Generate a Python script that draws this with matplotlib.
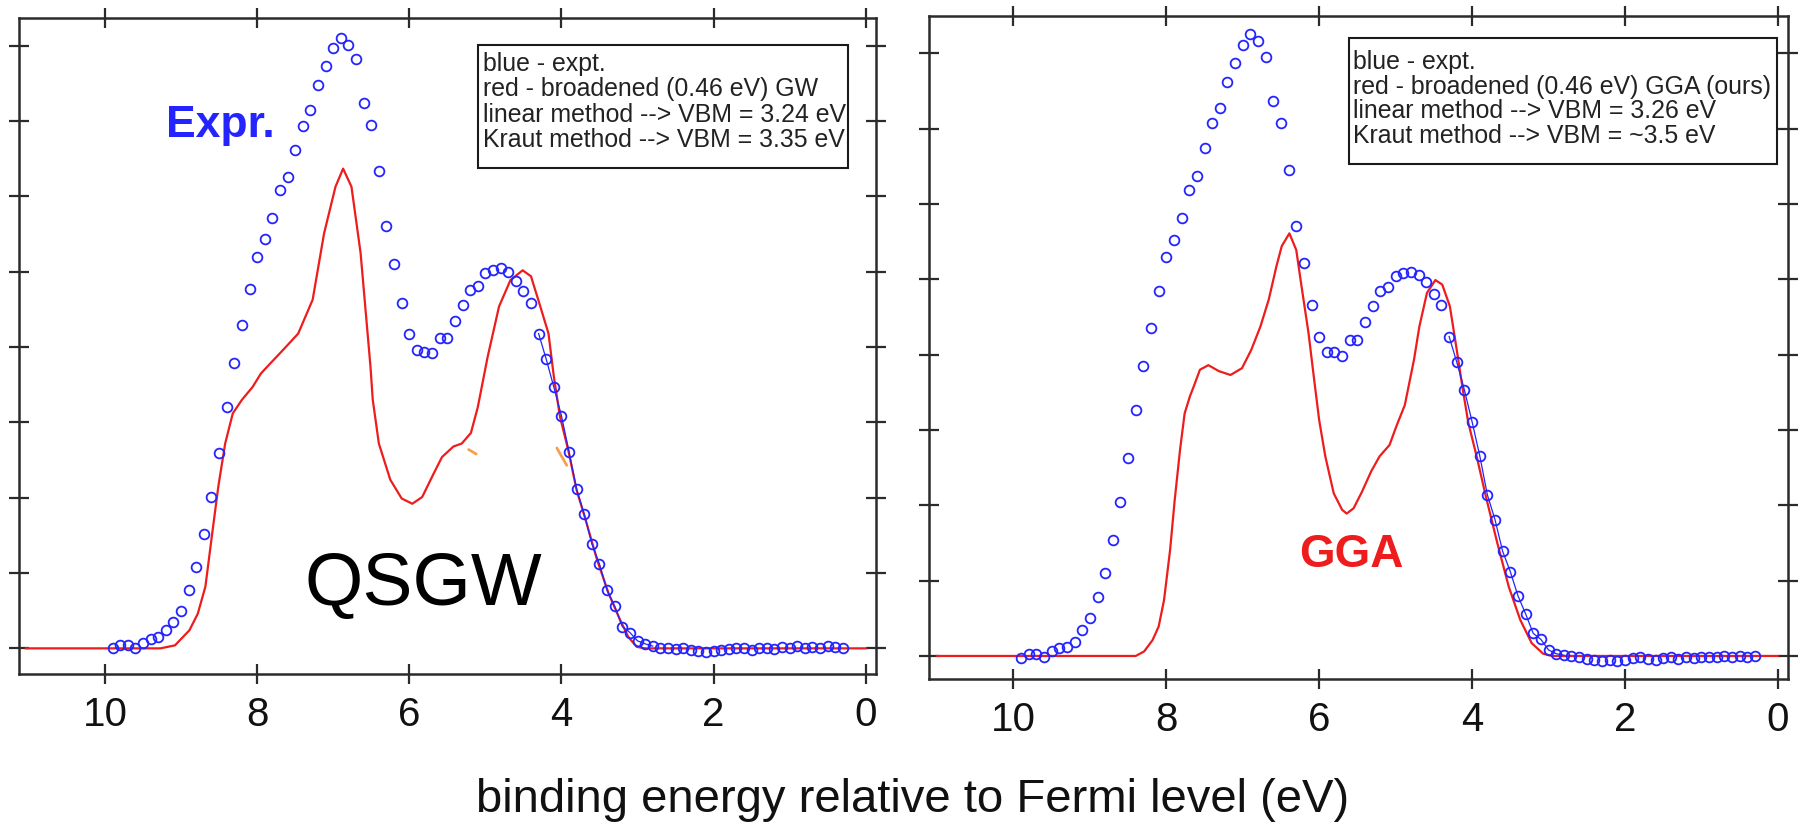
import numpy as np
import matplotlib.pyplot as plt
from matplotlib.patches import Rectangle

plt.rcParams['font.family'] = ['Liberation Sans', 'DejaVu Sans']

# experimental spectrum, sampled every 0.1 eV from 9.9 eV down to 0.3 eV
energy_expt = np.round(np.arange(9.9, 0.25, -0.1), 1)

expt_gw = [0.00, 0.04, 0.05, 0.01, 0.07, 0.12, 0.15, 0.24, 0.35, 0.50,
           0.77, 1.08, 1.52, 2.01, 2.59, 3.21, 3.79, 4.29, 4.77, 5.20,
           5.43, 5.71, 6.09, 6.26, 6.62, 6.94, 7.15, 7.48, 7.73, 7.97,
           8.10, 8.01, 7.82, 7.24, 6.95, 6.34, 5.61, 5.11, 4.59, 4.17,
           3.96, 3.94, 3.92, 4.12, 4.12, 4.35, 4.56, 4.76, 4.81, 4.98,
           5.03, 5.05, 5.00, 4.88, 4.74, 4.59, 4.18, 3.84, 3.47, 3.09,
           2.61, 2.11, 1.78, 1.39, 1.12, 0.77, 0.56, 0.29, 0.21, 0.10,
           0.06, 0.03, 0.01, 0.00, -0.01, 0.00, -0.02, -0.04, -0.05, -0.03,
           -0.02, -0.01, 0.01, 0.00, -0.02, 0.01, 0.00, -0.01, 0.02, 0.00,
           0.03, 0.01, 0.02, 0.00, 0.03, 0.02, 0.01]

expt_gga = [-0.03, 0.03, 0.03, -0.01, 0.06, 0.10, 0.12, 0.19, 0.35, 0.50,
            0.78, 1.10, 1.54, 2.04, 2.63, 3.27, 3.85, 4.36, 4.85, 5.29,
            5.52, 5.81, 6.19, 6.37, 6.74, 7.07, 7.27, 7.62, 7.87, 8.11,
            8.25, 8.16, 7.95, 7.37, 7.07, 6.45, 5.71, 5.21, 4.66, 4.23,
            4.04, 4.03, 3.98, 4.19, 4.20, 4.43, 4.64, 4.84, 4.90, 5.05,
            5.08, 5.10, 5.06, 4.96, 4.81, 4.66, 4.24, 3.90, 3.53, 3.11,
            2.66, 2.14, 1.81, 1.39, 1.12, 0.80, 0.56, 0.30, 0.22, 0.08,
            0.03, 0.01, 0.00, -0.02, -0.04, -0.05, -0.07, -0.06, -0.07, -0.05,
            -0.03, -0.02, -0.04, -0.05, -0.03, -0.02, -0.04, -0.02, -0.03, -0.01,
            -0.02, -0.01, 0.00, -0.02, 0.00, -0.01, 0.00]

# broadened (0.46 eV) theory curves
gw_energy = [11.04, 9.27, 9.08, 8.89, 8.78, 8.68, 8.59, 8.51, 8.42, 8.32,
             8.20, 8.06, 7.95, 7.83, 7.68, 7.46, 7.27, 7.12, 6.97, 6.87,
             6.76, 6.64, 6.51, 6.48, 6.40, 6.25, 6.10, 5.96, 5.83, 5.68,
             5.57, 5.42, 5.31, 5.19, 5.10, 4.97, 4.82, 4.67, 4.51, 4.40,
             4.29, 4.17, 4.10, 4.02, 3.91, 3.80, 3.68, 3.53, 3.38, 3.23,
             3.12, 3.01, 2.90, 0.0]
gw_dos = [0.0, 0.0, 0.04, 0.24, 0.46, 0.82, 1.53, 2.15, 2.72, 3.12,
          3.30, 3.47, 3.65, 3.78, 3.94, 4.18, 4.63, 5.51, 6.13, 6.37,
          6.13, 5.25, 3.74, 3.30, 2.72, 2.24, 1.99, 1.92, 2.01, 2.32,
          2.54, 2.68, 2.72, 2.86, 3.20, 3.87, 4.54, 4.89, 5.02, 4.94,
          4.58, 4.18, 3.61, 3.08, 2.63, 2.10, 1.70, 1.17, 0.73, 0.38,
          0.15, 0.02, 0.0, 0.0]

gga_energy = [11.0, 8.40, 8.29, 8.18, 8.10, 8.03, 7.95, 7.89, 7.82, 7.76,
              7.69, 7.64, 7.56, 7.45, 7.31, 7.16, 7.01, 6.89, 6.77, 6.66,
              6.56, 6.49, 6.39, 6.30, 6.23, 6.14, 6.06, 6.00, 5.92, 5.81,
              5.70, 5.64, 5.55, 5.44, 5.32, 5.21, 5.08, 4.99, 4.88, 4.76,
              4.69, 4.59, 4.48, 4.39, 4.29, 4.20, 4.12, 4.05, 3.94, 3.82,
              3.67, 3.52, 3.37, 3.22, 3.07, 2.95, 0.0]
gga_dos = [0.0, 0.0, 0.06, 0.21, 0.39, 0.74, 1.41, 2.07, 2.74, 3.22,
           3.45, 3.58, 3.80, 3.86, 3.78, 3.73, 3.82, 4.06, 4.37, 4.73,
           5.17, 5.44, 5.61, 5.39, 4.90, 4.29, 3.62, 3.13, 2.65, 2.16,
           1.94, 1.89, 1.96, 2.18, 2.45, 2.65, 2.80, 3.05, 3.33, 3.93,
           4.37, 4.82, 4.99, 4.93, 4.64, 4.06, 3.53, 3.10, 2.65, 2.12,
           1.50, 0.92, 0.48, 0.17, 0.03, 0.0, 0.0]

# stray orange strokes left on the GW panel
stray_x = [[5.22, 5.12], [4.06, 3.93]]
stray_y = [[2.64, 2.58], [2.66, 2.43]]

gw_notes = ["blue - expt.",
            "red - broadened (0.46 eV) GW",
            "linear method --> VBM = 3.24 eV",
            "Kraut method --> VBM = 3.35 eV"]
gga_notes = ["blue - expt.",
             "red - broadened (0.46 eV) GGA (ours)",
             "linear method --> VBM = 3.26 eV",
             "Kraut method --> VBM = ~3.5 eV"]

xticks = [10, 8, 6, 4, 2, 0]
yticks = [0, 1, 2, 3, 4, 5, 6, 7, 8]

BLUE = '#2424ff'
RED = '#ee1c1c'
FRAME = '#2b2b2b'


def style_panel(ax, xlim, ylim):
    ax.set_xlim(*xlim)
    ax.set_ylim(*ylim)
    ax.set_xticks(xticks)
    ax.set_xticklabels([str(t) for t in xticks])
    ax.set_yticks(yticks)
    ax.tick_params(direction='inout', length=15, width=1.6, color=FRAME,
                   top=True, right=True, labelleft=False, labelsize=29,
                   pad=8, labelcolor='#111111')
    for s in ax.spines.values():
        s.set_color(FRAME)
        s.set_linewidth(1.8)


def draw_spectra(ax, expt, th_e, th_d):
    ax.plot(th_e, th_d, color=RED, lw=1.6, zorder=2)
    # thin line through the points on the low-energy edge
    e = np.asarray(energy_expt)
    sel = (e >= 2.8) & (e <= 4.35)
    ax.plot(e[sel], np.asarray(expt)[sel], color=BLUE, lw=0.9, zorder=3)
    ax.plot(energy_expt, expt, 'o', mfc='none', mec=BLUE, ms=7, mew=1.3,
            zorder=4)


def draw_notes(ax, box, x0, y0, dy, lines):
    ax.add_patch(Rectangle(box[:2], box[2], box[3], transform=ax.transAxes,
                           fill=False, ec='#1a1a1a', lw=1.5, zorder=5))
    for i, line in enumerate(lines):
        ax.text(x0, y0 - i * dy, line, transform=ax.transAxes, fontsize=17.9,
                color='#222222', ha='left', va='baseline', zorder=6)


fig = plt.figure(figsize=(18, 8.24), dpi=100)
ax_gw = fig.add_axes([0.01056, 0.1820, 0.4759, 0.7965])
ax_gga = fig.add_axes([0.5163, 0.1756, 0.4769, 0.8054])

# left panel: QSGW
draw_spectra(ax_gw, expt_gw, gw_energy, gw_dos)
for sx, sy in zip(stray_x, stray_y):
    ax_gw.plot(sx, sy, color='#f4a050', lw=2, solid_capstyle='round')
style_panel(ax_gw, (11.13, -0.13), (-0.341, 8.374))
draw_notes(ax_gw, (0.536, 0.771, 0.432, 0.187), 0.5416, 0.9185, 0.0384,
           gw_notes)
ax_gw.text(9.20, 6.79, "Expr.", color=BLUE, fontsize=32, fontweight='bold',
           ha='left', va='baseline')
ax_gw.text(5.82, 0.575, "QSGW", color='black', fontsize=54,
           ha='center', va='baseline')

# right panel: GGA
draw_spectra(ax_gga, expt_gga, gga_energy, gga_dos)
style_panel(ax_gga, (11.10, -0.13), (-0.31, 8.50))
draw_notes(ax_gga, (0.489, 0.7765, 0.4985, 0.1895), 0.4936, 0.9200, 0.0374,
           gga_notes)
ax_gga.text(5.58, 1.18, "GGA", color=RED, fontsize=33, fontweight='bold',
            ha='center', va='baseline')

fig.text(0.507, 0.0146, "binding energy relative to Fermi level (eV)",
         fontsize=34, color='#111111', ha='center', va='baseline')

fig.savefig('out.png', dpi=100)
